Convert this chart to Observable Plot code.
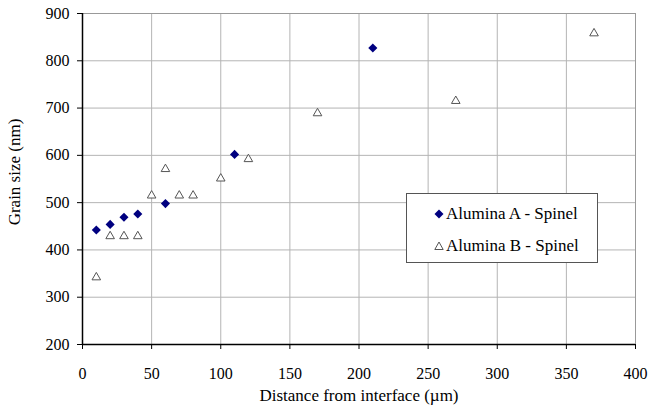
<!DOCTYPE html>
<html>
<head>
<meta charset="utf-8">
<script src="https://cdn.jsdelivr.net/npm/d3@7"></script>
<script src="https://cdn.jsdelivr.net/npm/@observablehq/plot@0.6"></script>
</head>
<body style="margin:0;padding:0;background:#fff">
<div id="wrap" style="position:relative;width:648px;height:409px;font-family:'Liberation Serif', serif"></div>
<script>
const seriesA = "Alumina A - Spinel";
const seriesB = "Alumina B - Spinel";
const distA = [10, 20, 30, 40, 60, 110, 210];
const sizeA = [442, 454, 469, 476, 498, 602, 827];
const distB = [10, 20, 30, 40, 50, 60, 70, 80, 100, 120, 170, 270, 370];
const sizeB = [342, 429, 429, 429, 515, 571, 515, 515, 551, 592, 689, 715, 858];
const xTicks = [0, 50, 100, 150, 200, 250, 300, 350, 400];
const yTicks = [200, 300, 400, 500, 600, 700, 800, 900];

const dataA = distA.map((d, i) => ({x: d, y: sizeA[i]}));
const dataB = distB.map((d, i) => ({x: d, y: sizeB[i]}));

const serif = "'Liberation Serif', serif";
const chart = Plot.plot({
  width: 648,
  height: 409,
  marginLeft: 82,
  marginRight: 13,
  marginTop: 13,
  marginBottom: 65,
  x: {domain: [0, 400]},
  y: {domain: [200, 900]},
  marks: [
    Plot.gridX(xTicks, {stroke: "#b4b4b4", strokeOpacity: 1}),
    Plot.gridY(yTicks, {stroke: "#b4b4b4", strokeOpacity: 1}),
    Plot.frame({stroke: "#999"}),
    Plot.ruleX([0], {stroke: "#000", strokeWidth: 1.5}),
    Plot.ruleY([200], {stroke: "#000", strokeWidth: 1.5}),
    Plot.axisX(xTicks, {tickSize: 5, tickPadding: 18, fontSize: 16, label: "Distance from interface (µm)", labelAnchor: "center", labelOffset: 56, labelArrow: "none"}),
    Plot.axisY(yTicks, {tickSize: 5, tickPadding: 8, fontSize: 16, label: "Grain size (nm)", labelAnchor: "center", labelOffset: 75, labelArrow: "none"}),
    Plot.dot(dataB, {x: "x", y: "y", symbol: "triangle2", r: 4.1, stroke: "#555", strokeWidth: 1, fill: "#fff"}),
    Plot.dot(dataA, {x: "x", y: "y", symbol: "diamond2", r: 4.1, fill: "#000080", stroke: "none"})
  ]
});
chart.setAttribute("font-family", serif);
chart.style.fontFamily = serif;
chart.style.background = "#fff";
chart.style.color = "#000";
chart.querySelectorAll("g, text").forEach(el => {
  if (el.hasAttribute("font-family")) el.setAttribute("font-family", serif);
  if (el.tagName === "text") el.style.fontFamily = serif;
});
chart.querySelectorAll('[aria-label="x-axis label"] text, [aria-label="y-axis label"] text').forEach(t => t.setAttribute("font-size", 17));
chart.querySelectorAll('[aria-label="y-axis label"] text').forEach(t => t.setAttribute("dx", 7));
const wrap = document.getElementById("wrap");
wrap.appendChild(chart);

const legend = document.createElement("div");
Object.assign(legend.style, {position: "absolute", left: "406px", top: "193px", width: "190px", height: "68px", border: "1px solid #555", background: "#fff", fontSize: "17px", color: "#000", fontFamily: serif});
const rowStyle = "position:absolute;left:27px;display:flex;align-items:center;white-space:nowrap;line-height:1;font-family:'Liberation Serif', serif";
legend.innerHTML = `
  <div style="${rowStyle};top:11px"><svg width="10" height="10" viewBox="-5 -5 10 10" style="margin-right:2px"><path d="M0,-4.5L4.5,0L0,4.5L-4.5,0Z" fill="#000080"/></svg><span>${seriesA}</span></div>
  <div style="${rowStyle};top:43px"><svg width="10" height="10" viewBox="-5 -5 10 10" style="margin-right:2px"><path d="M0,-4L4.2,3.5L-4.2,3.5Z" fill="#fff" stroke="#555"/></svg><span>${seriesB}</span></div>`;
wrap.appendChild(legend);
</script>
</body>
</html>
